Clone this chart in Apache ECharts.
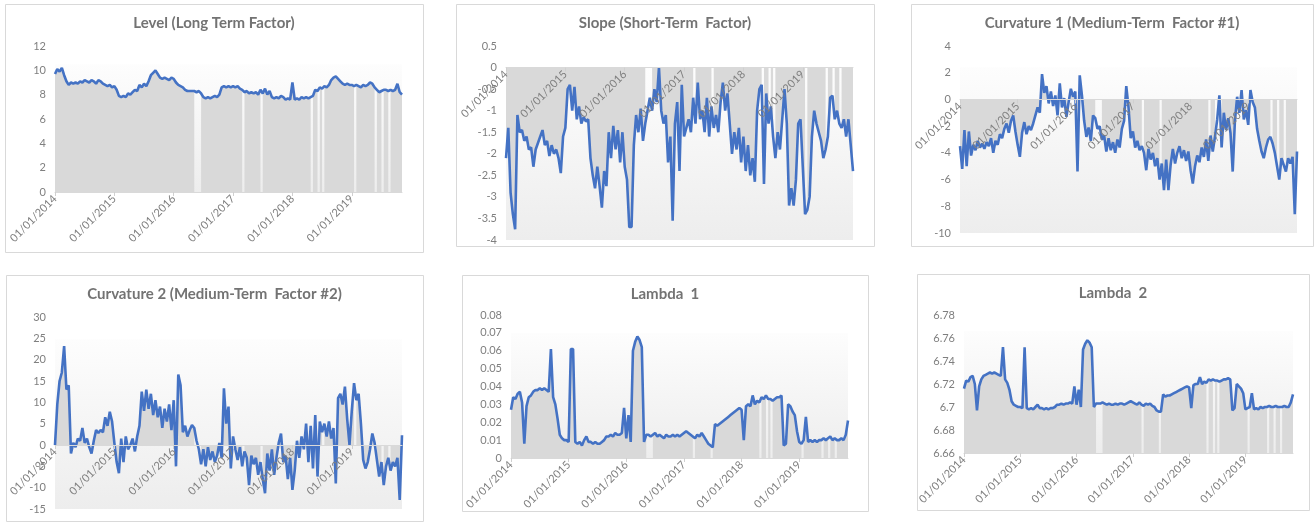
<!DOCTYPE html>
<html>
<head>
<meta charset="utf-8">
<script src="https://cdn.jsdelivr.net/npm/echarts@6/dist/echarts.min.js"></script>
<style>
html, body { margin: 0; padding: 0; background: #fff; }
#main { width: 1316px; height: 522px; }
</style>
</head>
<body>
<div id="main"></div>
<script>
// samples every two weeks, starting 01/01/2014
var startYear = 2014;
var step = 1 / 26;

var chartTitles = [
    'Level (Long Term Factor)',
    'Slope (Short-Term  Factor)',
    'Curvature 1 (Medium-Term  Factor #1)',
    'Curvature 2 (Medium-Term  Factor #2)',
    'Lambda  1',
    'Lambda  2'
];

// dates (in years) where the shaded series has no value
var gapDates = [2016.36, 2016.41, 2016.45, 2017.18, 2017.48, 2018.33, 2018.45, 2018.5, 2019.07, 2019.42, 2019.5, 2019.62];

var levelVals = [
    9.7, 10.1, 9.9, 10.2, 9.6, 9.1, 8.8,
    9.0, 8.9, 9.0, 8.9, 9.1, 9.0, 9.2, 9.1, 9.0, 9.2, 9.1, 8.9, 9.2,
    9.1, 8.9, 8.8, 8.7, 8.8, 8.6, 8.7, 8.4,
    7.9, 7.8, 7.9, 7.8,
    8.1, 8.0, 8.2, 8.4, 8.3,
    8.8, 8.6, 8.9, 8.7, 9.1,
    9.6, 9.8, 10.0, 9.7,
    9.4, 9.3, 9.4, 9.3, 9.2, 9.4, 9.3, 9.0,
    8.8, 8.7, 8.6, 8.4, 8.3, 8.3,
    8.3, 8.3, 8.2, 8.3, 8.1,
    7.8, 7.7, 7.8, 7.7, 7.8, 7.9, 7.8, 8.0,
    8.6, 8.7, 8.6, 8.7, 8.6, 8.7, 8.6, 8.7, 8.5, 8.4,
    8.2, 8.3, 8.1, 8.2, 8.1, 8.2, 8.0, 8.4, 8.1,
    8.5, 8.0, 8.3,
    7.8, 7.7, 7.8, 7.7, 7.9, 7.8, 7.6, 7.7, 7.6,
    9.0,
    7.6, 7.7, 7.6, 7.8, 7.7, 7.8, 7.7, 7.8, 7.9,
    8.4, 8.3, 8.6, 8.5, 8.7, 8.6, 8.8,
    9.2, 9.4, 9.5, 9.3, 9.1,
    8.9, 8.8, 8.9, 8.8, 8.8, 8.7, 8.8, 8.7, 8.6, 8.8, 8.7, 8.8,
    9.0, 8.9, 8.6, 8.4, 8.2, 8.3,
    8.4, 8.4, 8.3, 8.4, 8.3, 8.4, 8.9, 8.2, 8.0
];

var slopeVals = [
    -2.1, -1.4, -2.9, -3.4, -3.75, -1.1, -1.5, -1.45, -1.7, -1.6,
    -1.9, -1.85, -2.3, -1.9, -1.75, -1.6, -1.45, -1.8, -1.7, -2.05,
    -1.8, -2.0, -1.9, -2.1, -2.45, -1.6, -1.4, -0.5, -0.4, -1.0,
    -0.45, -1.2, -0.9, -1.3, -1.15, -1.25, -1.2, -2.1, -2.5, -2.8,
    -2.3, -2.75, -3.25, -2.4, -2.75, -1.5, -2.1, -1.35, -1.9, -1.45,
    -2.2, -1.5, -2.3, -2.6, -3.7, -3.7, -1.8, -1.1, -1.5, -0.95,
    -1.7, -1.3, -1.0, -0.7, -1.0, -0.5, -0.8, 0.0, -1.0, -1.3,
    -1.1, -2.2, -1.6, -3.55, -1.3, -0.8, -2.4, -0.4, -1.6, -1.4,
    -1.2, -1.5, -0.7, -1.3, -0.35, -1.2, -1.0, -1.5, -0.7, -1.6,
    -0.9, -1.4, -1.1, -1.5, -0.8, -0.35, -1.0, -0.6, -1.3, -2.0,
    -1.5, -1.9, -1.4, -2.2, -1.6, -2.4, -1.8, -2.5, -2.1, -2.65,
    -1.0, -0.5, -0.4, -2.7, -0.6, -1.3, -0.9, -1.6, -2.1, -1.5,
    -1.9, -1.2, -0.5, -1.3, -3.2, -2.8, -3.2, -2.6, -1.3, -1.2,
    -2.3, -3.4, -3.3, -3.0, -1.6, -1.0, -1.3, -1.5, -1.7, -2.1,
    -1.9, -1.6, -0.7, -0.65, -1.2, -1.0, -1.3, -1.4, -1.2, -1.6,
    -1.2, -1.8, -2.4
];

var curv1Vals = [
    -3.5, -5.2, -2.3, -5.0, -2.4, -4.2, -3.4, -3.8, -3.1, -3.6,
    -3.3, -3.7, -3.2, -3.5, -2.9, -4.0, -3.1, -3.4, -2.6, -2.9,
    -2.2, -1.8, -2.5, -1.6, -1.2, -2.4, -3.4, -4.3, -2.5, -1.7,
    -2.6, -2.0, -2.3, -1.8, -1.2, -0.6, -1.0, 1.9, 0.5, 1.0,
    -0.3, 0.6, -0.5, 0.3, -1.2, 1.2, -0.6, 0.1, -1.3, -0.2,
    0.8, 0.2, 0.6, -5.4, 1.8, 0.3, -1.6, -2.8, -2.1, -3.1,
    -1.2, -1.4, -2.2, -2.0, -3.0, -2.7, -3.9, -2.9, -3.8, -3.2,
    -4.0, -3.0, -3.6, -2.2, -1.6, 1.0, -0.6, -2.9, -2.4, -3.6,
    -3.1, -3.8, -3.5, -4.0, -5.3, -3.7, -4.5, -4.0, -5.0, -4.4,
    -6.0, -4.8, -6.8, -4.5, -6.8, -4.9, -3.7, -4.8, -4.0, -3.5,
    -4.4, -3.8, -4.6, -3.9, -5.3, -6.3, -5.0, -4.2, -4.7, -3.6,
    -4.3, -3.0, -4.6, -2.7, -3.9, -2.8, -1.5, 0.3, -3.6, -1.0,
    -2.3, -1.4, -2.5, -5.4, -1.6, 0.2, -1.0, 0.7, -1.5, -0.8,
    -1.9, 0.7, -0.2, -0.6, -2.2, -3.1, -3.9, -4.4, -3.6, -3.0,
    -2.8, -3.3, -4.0, -5.0, -6.0, -4.4, -4.9, -5.4, -4.4, -4.8,
    -4.3, -8.6, -3.9
];

var curv2Vals = [
    0, 9.5, 15, 17, 23.2, 13, 14, -2, 0.5, -0.5,
    1.5, 1.0, 4.0, 0.5, 1.5, -0.5, -2.0, 1.0, 3.5, 2.8,
    3.5, 3.0, 6.5, 4.5, 7.8, 5.5, 0.5, -4.0, -6.6, 1.5,
    -4.0, 2.0, -1.0, 0.0, 1.5, -1.5, 2.0, 4.5, 12.5, 8.0,
    13.0, 8.5, 12.0, 7.0, 10.5, 6.5, 9.0, 4.0, 8.5, 5.5,
    9.5, 3.5, 10.5, -5.0, 16.5, 14.0, 3.0, 4.5, 2.0, 3.5,
    4.7, 4.0, 1.0, -1.0, -4.5, -1.0, -5.0, -0.5, -3.5, -1.5,
    -4.0, -2.5, 0.5, -3.0, 13.3, 5.0, 9.0, -5.5, 2.0, -1.0,
    -3.5, -0.5, -5.0, -1.5, -3.0, -9.4, -2.5, -4.5, -3.0, -7.0,
    -4.0, -8.0, -11.3, -2.0, -6.0, -1.0, -7.0, -3.0, 0.5, 2.7,
    -4.0, -2.5, -8.0, -3.0, -10.5, -6.0, 1.0, -3.0, 2.0, -1.0,
    5.0, -4.0, 4.5, -5.5, 7.0, -7.4, 5.5, 3.0, 5.0, 2.0,
    5.5, 1.5, 4.0, -9.0, 11.0, 12.0, 9.5, 13.7, 6.0, 0.0,
    8.0, 14.5, 10.5, 12.0, 5.0, -3.5, -5.5, -4.0, -1.0, 2.7,
    0.5, -3.5, -7.4, -4.0, -9.4, -5.0, -3.0, -6.0, -4.0, -5.0,
    -3.0, -12.9, 2.3
];

var lambda1Vals = [
    0.027, 0.034, 0.033, 0.036, 0.037, 0.031, 0.008, 0.029, 0.034, 0.035,
    0.037, 0.038, 0.038, 0.039, 0.038, 0.039, 0.038, 0.037, 0.061, 0.034,
    0.030, 0.022, 0.013, 0.011, 0.010, 0.010, 0.009, 0.061, 0.061, 0.009,
    0.008, 0.009, 0.007, 0.010, 0.012, 0.009, 0.009, 0.008, 0.009, 0.008,
    0.008, 0.009, 0.010, 0.012, 0.012, 0.013, 0.012, 0.014, 0.013, 0.013,
    0.014, 0.028, 0.011, 0.024, 0.009, 0.060, 0.065, 0.068, 0.066, 0.062,
    0.009, 0.013, 0.013, 0.012, 0.013, 0.014, 0.012, 0.013, 0.012, 0.011,
    0.013, 0.012, 0.012, 0.013, 0.012, 0.013, 0.012, 0.013, 0.014, 0.015,
    0.014, 0.013, 0.012, 0.011, 0.013, 0.012, 0.014, 0.012, 0.010, 0.008,
    0.007, 0.006, 0.019, 0.018, 0.019, 0.020, 0.021, 0.022, 0.023, 0.024,
    0.025, 0.026, 0.027, 0.028, 0.027, 0.010, 0.029, 0.030, 0.029, 0.035,
    0.030, 0.032, 0.031, 0.034, 0.033, 0.035, 0.033, 0.033, 0.032, 0.033,
    0.034, 0.034, 0.035, 0.007, 0.008, 0.030, 0.029, 0.026, 0.024, 0.015,
    0.009, 0.008, 0.010, 0.023, 0.009, 0.010, 0.009, 0.010, 0.009, 0.010,
    0.010, 0.011, 0.010, 0.011, 0.012, 0.010, 0.011, 0.010, 0.010, 0.011,
    0.010, 0.013, 0.021
];

var lambda2Vals = [
    6.716, 6.723, 6.722, 6.726, 6.727, 6.720, 6.697, 6.718, 6.724, 6.727,
    6.728, 6.729, 6.730, 6.729, 6.730, 6.729, 6.728, 6.727, 6.752, 6.724,
    6.721, 6.715, 6.705, 6.702, 6.701, 6.700, 6.700, 6.699, 6.752, 6.699,
    6.698, 6.699, 6.698, 6.700, 6.702, 6.699, 6.699, 6.698, 6.699, 6.698,
    6.699, 6.699, 6.700, 6.702, 6.702, 6.703, 6.702, 6.703, 6.703, 6.704,
    6.703, 6.718, 6.702, 6.715, 6.700, 6.750, 6.755, 6.758, 6.756, 6.752,
    6.700, 6.703, 6.703, 6.703, 6.704, 6.703, 6.702, 6.703, 6.702, 6.702,
    6.703, 6.702, 6.703, 6.703, 6.702, 6.703, 6.704, 6.705, 6.704, 6.703,
    6.702, 6.704, 6.702, 6.701, 6.703, 6.702, 6.703, 6.701, 6.700, 6.697,
    6.696, 6.696, 6.711, 6.709, 6.710, 6.710, 6.711, 6.712, 6.713, 6.714,
    6.715, 6.716, 6.717, 6.718, 6.717, 6.699, 6.719, 6.720, 6.720, 6.726,
    6.720, 6.722, 6.721, 6.724, 6.723, 6.724, 6.723, 6.723, 6.722, 6.723,
    6.724, 6.724, 6.725, 6.724, 6.697, 6.699, 6.720, 6.718, 6.716, 6.712,
    6.698, 6.699, 6.700, 6.712, 6.698, 6.699, 6.698, 6.700, 6.699, 6.700,
    6.700, 6.701, 6.700, 6.700, 6.701, 6.700, 6.700, 6.700, 6.701, 6.700,
    6.700, 6.704, 6.711
];

var allVals = [levelVals, slopeVals, curv1Vals, curv2Vals, lambda1Vals, lambda2Vals];

// axis ranges per panel
var yMins = [0, -4, -10, -15, 0, 6.66];
var yMaxs = [12, 0.5, 4, 30, 0.08, 6.78];
var yIntervals = [2, 0.5, 2, 5, 0.01, 0.02];
// where the shaded plot background starts
var bgTops = [10.5, 0, 2.4, 24.8, 0.07, 6.766];

// layout: panel frame, plot area
var frames = [
    [5, 4, 418, 248], [456, 4, 418, 242], [911, 4, 402, 242],
    [6, 275, 417, 246], [462, 275, 406, 236], [917, 274, 392, 236]
];
var plots = [
    [55, 46, 347, 146], [506, 46, 347, 194], [960, 46, 337, 187],
    [55, 317, 347, 192], [511, 315, 337, 143], [964, 315, 329, 138]
];

var FONT = 'Lato, "Open Sans", sans-serif';
var lineBlue = '#4472c4';

function toPoints(vals) {
    var d = [];
    for (var i = 0; i < vals.length; i++) {
        d.push([startYear + i * step, vals[i]]);
    }
    return d;
}

// shaded series, broken at the gap dates
function toAreaPoints(vals) {
    var d = [], g = 0;
    for (var i = 0; i < vals.length; i++) {
        var x = startYear + i * step;
        while (g < gapDates.length && gapDates[g] < x) {
            d.push([gapDates[g], null]);
            g++;
        }
        d.push([x, vals[i]]);
    }
    return d;
}

var grids = [], xAxes = [], yAxes = [], series = [], graphics = [];

for (var k = 0; k < 6; k++) {
    var vals = allVals[k];
    var lastX = startYear + (vals.length - 1) * step;
    var p = plots[k], f = frames[k];
    // Excel draws the date axis where the value axis crosses 0
    var zeroLift = yMins[k] < 0 ? p[3] * (0 - yMins[k]) / (yMaxs[k] - yMins[k]) : 0;

    grids.push({left: p[0], top: p[1], width: p[2], height: p[3]});

    xAxes.push({
        gridIndex: k,
        type: 'value',
        position: 'bottom',
        offset: -zeroLift,
        z: 10,
        min: startYear,
        max: lastX,
        interval: 1,
        axisLine: {onZero: false, lineStyle: {color: '#d9d9d9', width: 1}},
        axisTick: {length: 4, lineStyle: {color: '#d0d0d0'}},
        splitLine: {show: false},
        axisLabel: {
            rotate: 45,
            fontSize: 11,
            fontFamily: FONT,
            color: '#7f7f7f',
            margin: 5,
            showMaxLabel: false,
            hideOverlap: false,
            formatter: function (v) {
                return Math.abs(v - Math.round(v)) < 1e-6 ? '01/01/' + Math.round(v) : '';
            }
        }
    });

    yAxes.push({
        gridIndex: k,
        type: 'value',
        min: yMins[k],
        max: yMaxs[k],
        interval: yIntervals[k],
        axisLine: {show: false},
        axisTick: {show: false},
        splitLine: {show: false},
        axisLabel: {fontSize: 11, fontFamily: FONT, color: '#7f7f7f', margin: 9}
    });

    series.push({
        type: 'line',
        xAxisIndex: k,
        yAxisIndex: k,
        data: toAreaPoints(vals),
        showSymbol: false,
        connectNulls: false,
        lineStyle: {width: 0},
        areaStyle: {color: '#d9d9d9', opacity: 1},
        silent: true,
        markArea: {
            silent: true,
            label: {show: false},
            itemStyle: {
                color: {
                    type: 'linear', x: 0, y: 0, x2: 0, y2: 1,
                    colorStops: [{offset: 0, color: '#fdfdfd'}, {offset: 1, color: '#ededed'}]
                }
            },
            data: [[{xAxis: startYear, yAxis: bgTops[k]}, {xAxis: lastX, yAxis: yMins[k]}]]
        }
    });

    series.push({
        type: 'line',
        xAxisIndex: k,
        yAxisIndex: k,
        data: toPoints(vals),
        showSymbol: false,
        lineStyle: {color: lineBlue, width: 2.6},
        z: 5
    });

    graphics.push({
        type: 'rect',
        shape: {x: f[0] + 0.5, y: f[1] + 0.5, width: f[2], height: f[3]},
        style: {fill: 'none', stroke: '#d9d9d9', lineWidth: 1},
        silent: true
    });
    graphics.push({
        type: 'text',
        x: f[0] + f[2] / 2,
        y: f[1] + 19,
        style: {
            text: chartTitles[k],
            align: 'center',
            verticalAlign: 'middle',
            font: 'bold 15px ' + FONT,
            fill: '#737373'
        },
        silent: true
    });
}

var chart = echarts.init(document.getElementById('main'));
chart.setOption({
    animation: false,
    backgroundColor: '#ffffff',
    grid: grids,
    xAxis: xAxes,
    yAxis: yAxes,
    series: series,
    graphic: graphics
});
</script>
</body>
</html>
